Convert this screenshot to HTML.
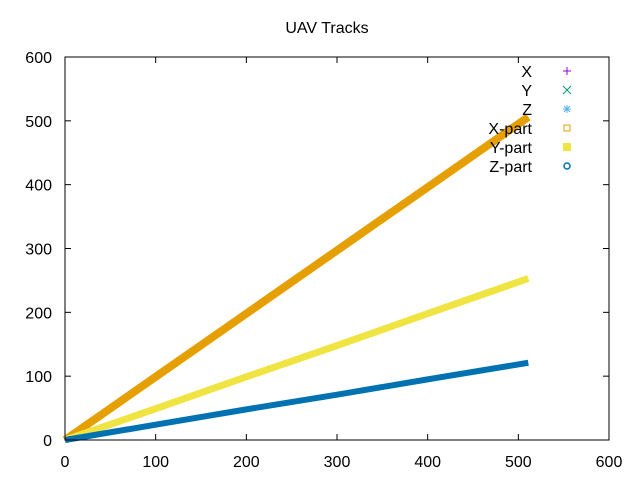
<!DOCTYPE html>
<html><head><meta charset="utf-8"><style>
body{margin:0;background:#fff}
text{font-family:"Liberation Sans",sans-serif;font-size:16px;fill:#000}
</style></head><body>
<svg id="c" width="640" height="480">
<rect width="640" height="480" fill="#fff"/>
<text x="327" y="33" text-anchor="middle">UAV Tracks</text>
<g id="axes"></g>
<g id="series"></g>
<rect x="65" y="57" width="544" height="383" fill="none" stroke="#000" stroke-width="1"/>
</svg>
<script>
const xTicks=[0,100,200,300,400,500,600];
const yTicks=[0,100,200,300,400,500,600];
const tData=[0,100,200,300,400,511];
const xPart=[0,99,198,297,396,506];
const yPart=[0,49,99,148,198,253];
const zPart=[0,24,48,71,95,121];
const X0=65,X1=609,Y0=440,Y1=57;
const sx=v=>X0+(v-0)/600*(X1-X0);
const sy=v=>Y0-(v-0)/600*(Y0-Y1);
const NS="http://www.w3.org/2000/svg";
const axes=document.getElementById('axes');
function mk(tag,attrs,parent){const e=document.createElementNS(NS,tag);for(const k in attrs)e.setAttribute(k,attrs[k]);parent.appendChild(e);return e;}
xTicks.forEach(v=>{
 const x=sx(v);
 const t=mk('line',{x1:x,y1:Y0,x2:x,y2:Y0-6,stroke:'#000'},axes);
 
 
 const t2=mk('line',{x1:x,y1:Y1,x2:x,y2:Y1+6,stroke:'#000'},axes);
 
 
 const l=mk('text',{x:x,y:467,'text-anchor':'middle'},axes);l.textContent=v;
 
 
});
yTicks.forEach(v=>{
 const y=sy(v);
 const t=mk('line',{x1:X0,y1:y,x2:X0+6,y2:y,stroke:'#000'},axes);
 
 
 const t2=mk('line',{x1:X1,y1:y,x2:X1-6,y2:y,stroke:'#000'},axes);
 
 
 const l=mk('text',{x:52,y:y+6,'text-anchor':'end'},axes);l.textContent=v;
 
 
});
const ser=document.getElementById('series');
[[xPart,'#e69f00',8,'x-part-series'],[yPart,'#f0e442',7,'y-part-series'],[zPart,'#0072b2',6,'z-part-series']].forEach(([arr,c,w,n])=>{
 const p=mk('polyline',{points:tData.map((t,i)=>sx(t)+','+sy(arr[i])).join(' '),fill:'none',stroke:c,'stroke-width':w,'stroke-linecap':'butt'},ser);
 
 
});
</script>
<svg style="position:absolute;left:0;top:0" width="640" height="480">
<g font-family="Liberation Sans" font-size="16">
<text x="532" y="77" text-anchor="end">X</text>
<text x="532" y="96" text-anchor="end">Y</text>
<text x="532" y="115" text-anchor="end">Z</text>
<text x="532" y="134" text-anchor="end">X-part</text>
<text x="532" y="153" text-anchor="end">Y-part</text>
<text x="532" y="172" text-anchor="end">Z-part</text>
</g>
<path d="M563 71h8M567 67v8" stroke="#9400d3" stroke-width="1"/>
<path d="M563 86l8 8M571 86l-8 8" stroke="#009e73" stroke-width="1"/>
<path d="M563 109h8M567 105v8M564 106l6 6M570 106l-6 6" stroke="#56b4e9" stroke-width="1"/>
<rect x="564" y="125" width="6" height="6" fill="none" stroke="#e69f00"/>
<rect x="563" y="143" width="8" height="8" fill="#f0e442"/>
<circle cx="567" cy="166" r="3" fill="none" stroke="#0072b2" stroke-width="1.5"/>
</svg>
</body></html>
